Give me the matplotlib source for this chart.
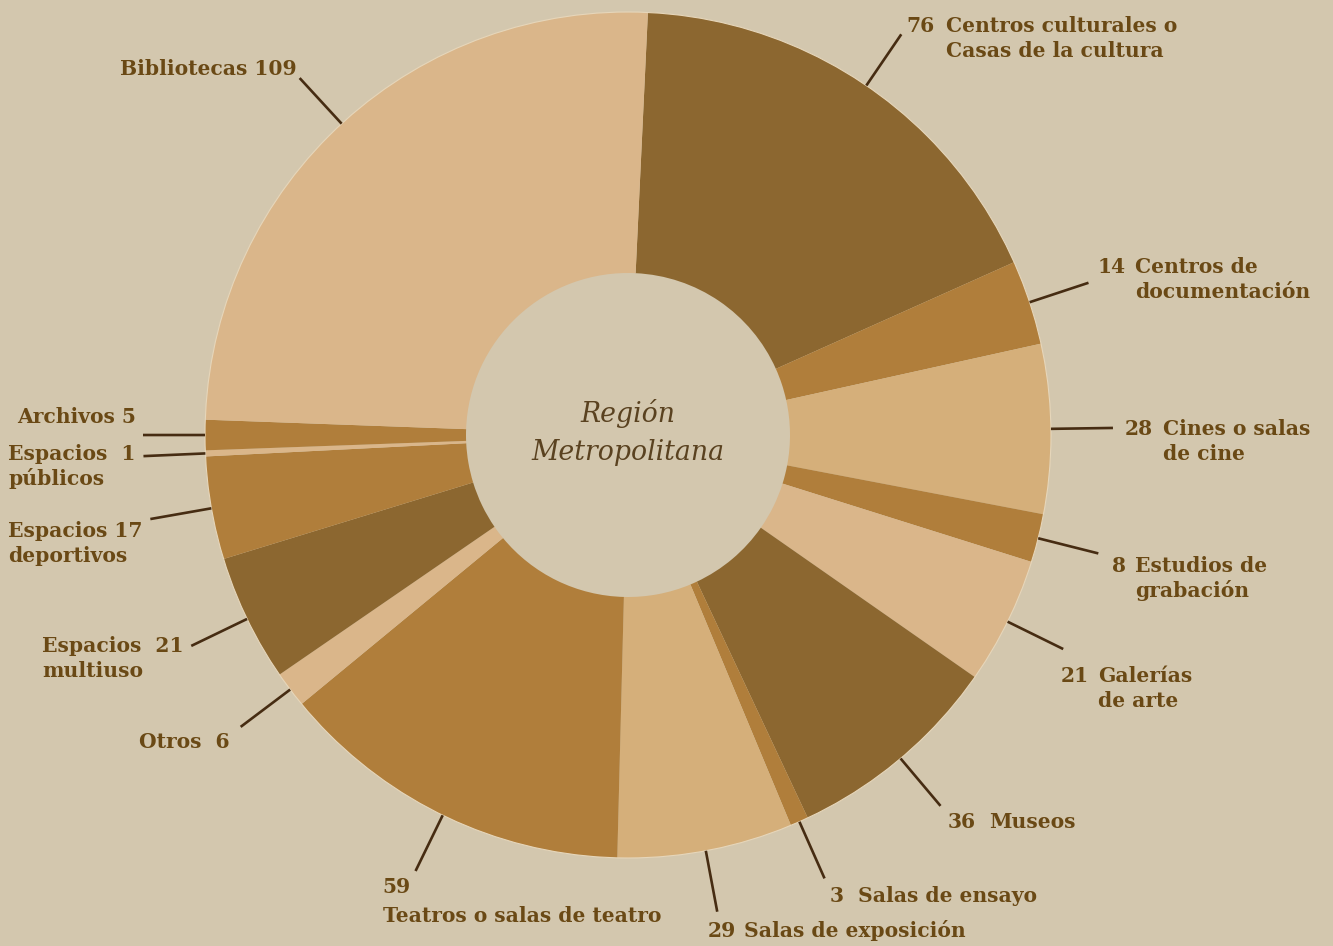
import numpy as np
import matplotlib.pyplot as plt

# datos: espacios culturales, Región Metropolitana
categorias = ['Centros culturales o\nCasas de la cultura', 'Centros de\ndocumentación',
              'Cines o salas\nde cine', 'Estudios de\ngrabación', 'Galerías\nde arte',
              'Museos', 'Salas de ensayo', 'Salas de exposición',
              'Teatros o salas de teatro', 'Otros', 'Espacios\nmultiuso',
              'Espacios\ndeportivos', 'Espacios\npúblicos', 'Archivos', 'Bibliotecas']
valores = [76, 14, 28, 8, 21, 36, 3, 29, 59, 6, 21, 17, 1, 5, 109]

OSCURO, MEDIO, CLARO, CLARO2 = '#8C6730', '#B07E3B', '#DAB68A', '#D5AF7A'
colores = [OSCURO, MEDIO, CLARO2, MEDIO, CLARO, OSCURO, MEDIO, CLARO2,
           MEDIO, CLARO, OSCURO, MEDIO, CLARO, MEDIO, CLARO]

FONDO = '#D3C7AE'
TEXTO = '#6A4915'
LINEA = '#462C12'

# posicion de etiquetas respecto al final de la linea (px, y hacia abajo)
# modo, dx numero, dx nombre / separador, dy linea base
disposicion = [
    ('der', 5, 45, -2), ('der', 9, 47, -10), ('der', 12, 50, 7), ('der', 14, 37, 19),
    ('der', -3, 35, 33), ('der', 7, 49, 22), ('der', 5, 33, 24), ('der', -10, 27, 25),
    ('abajo', -33, 0, 22), ('izq', -11, '  ', 21), ('izq', -8, '  ', 6),
    ('izq', -8, ' ', 18), ('izq', -8, '  ', 4), ('izq', -7, ' ', -12),
    ('izq', -3, ' ', -3),
]
PASO = 25  # px entre lineas

W, H = 1333, 946
cx, cy = 628, H - 435
R, r_in = 423, 162
R_LINEA = 485

plt.rcParams['font.family'] = ['DejaVu Serif']
fig = plt.figure(figsize=(W / 100, H / 100), dpi=100, facecolor=FONDO)
ax = fig.add_axes([0, 0, 1, 1])
ax.set_facecolor(FONDO)

wedges, _ = ax.pie(valores, colors=colores, startangle=87.3, counterclock=False,
                   radius=R, center=(cx, cy),
                   wedgeprops=dict(width=R - r_in, linewidth=0))
ax.add_patch(plt.Circle((cx, cy), R, fill=False, ec='#E6D6BA', lw=0.8))
ax.set_xlim(0, W)
ax.set_ylim(0, H)
ax.axis('off')

kw = dict(color=TEXTO, fontsize=14.6, fontweight='bold', va='baseline')
fig.canvas.draw()
ren = fig.canvas.get_renderer()

for w, cat, v, lay in zip(wedges, categorias, valores, disposicion):
    ang = np.deg2rad((w.theta1 + w.theta2) / 2)
    x0, y0 = cx + R * np.cos(ang), cy + R * np.sin(ang)
    ex, ey = cx + R_LINEA * np.cos(ang), cy + R_LINEA * np.sin(ang)
    ax.plot([x0, ex], [y0, ey], color=LINEA, lw=1.9, solid_capstyle='butt')
    modo = lay[0]
    lineas = cat.split('\n')
    if modo == 'der':
        _, dxn, dxt, dy = lay
        ax.text(ex + dxn, ey - dy, str(v), ha='left', **kw)
        for i, ln in enumerate(lineas):
            ax.text(ex + dxt, ey - dy - i * PASO, ln, ha='left', **kw)
    elif modo == 'abajo':
        _, dxn, _, dy = lay
        for i, ln in enumerate([str(v)] + lineas):
            ax.text(ex + dxn, ey - dy - i * 29, ln, ha='left', **kw)
    else:
        _, dxn, sep, dy = lay
        t = ax.text(ex + dxn, ey - dy, lineas[0] + sep + str(v), ha='right', **kw)
        izq = ax.transData.inverted().transform(
            (t.get_window_extent(ren).x0, 0))[0]
        for i, ln in enumerate(lineas[1:], start=1):
            ax.text(izq, ey - dy - i * PASO, ln, ha='left', **kw)

kw_c = dict(ha='center', va='baseline', fontsize=19.3, style='italic', color='#5A4220')
ax.text(cx, cy + 13, 'Región', **kw_c)
ax.text(cx, cy - 25, 'Metropolitana', **kw_c)

fig.savefig('out.png', dpi=100, facecolor=FONDO)
